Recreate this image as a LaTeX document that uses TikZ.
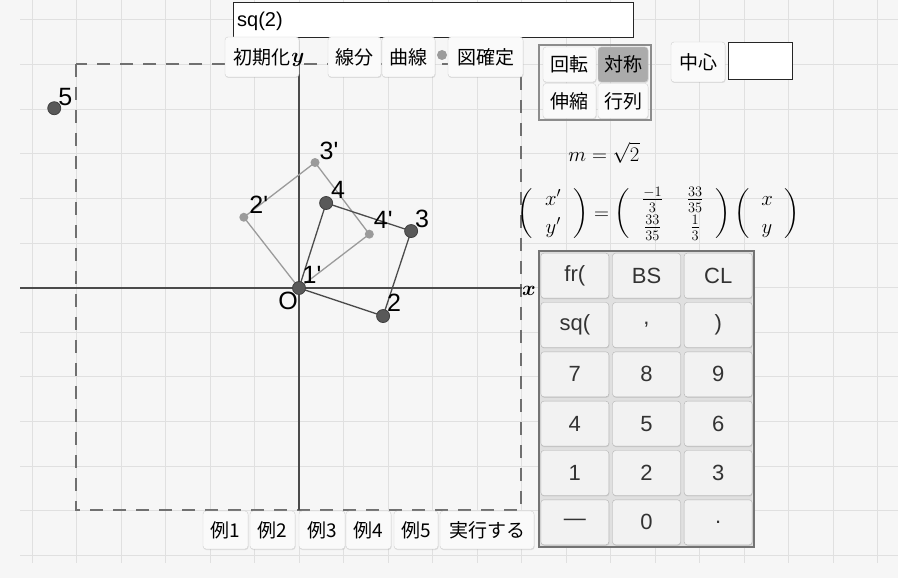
\documentclass[tikz,border=0pt]{standalone}
\usepackage{fontspec}
\setmainfont{Liberation Sans}
\newfontfamily\jpfont{Noto Sans CJK JP}
\usepackage{amsmath}
\usetikzlibrary{shadows}
\definecolor{bgcol}{HTML}{F6F6F6}
\definecolor{gridcol}{HTML}{E0E0E0}
\definecolor{axiscol}{HTML}{4A4A4A}
\definecolor{dashcol}{HTML}{707070}
\definecolor{ptdark}{HTML}{595959}
\definecolor{ptlight}{HTML}{9B9B9B}
\definecolor{btnfill}{HTML}{FAFAFA}
\definecolor{btnline}{HTML}{CFCFCF}
\definecolor{keyfill}{HTML}{F2F2F2}
\definecolor{selcol}{HTML}{ABABAB}

\begin{document}
\begin{tikzpicture}[x=1pt, y=-1pt,
    btn/.style={draw=btnline, fill=btnfill, rounded corners=3pt, inner sep=0pt,
      font=\jpfont\fontsize{19}{19}\selectfont,
      drop shadow={shadow xshift=.5pt, shadow yshift=-1pt, opacity=.2}},
    key/.style={btn, fill=keyfill, draw=black!30, minimum width=68pt, minimum height=45pt,
      font=\fontsize{22}{22}\selectfont, text=black!80},
    lbl/.style={inner sep=0pt, font=\fontsize{25}{25}\selectfont}]
  \fill[bgcol] (0,0) rectangle (898,578);
  \useasboundingbox (0,0) rectangle (898,578);
  % grid
  \foreach \k in {0,...,19}
    \draw[gridcol, line width=1pt] ({32+44.5*\k},0) -- ({32+44.5*\k},563);
  \foreach \k in {0,...,12}
    \draw[gridcol, line width=1pt] (20,{20+44.6*\k}) -- (898,{20+44.6*\k});
  \draw[dashcol, line width=1.8pt, dash pattern=on 13pt off 10pt] (76,64) rectangle (521,510);
  % axes
  \coordinate (o) at (299,288);
  \coordinate (xl) at (20,288);
  \coordinate (xr) at (522,288);
  \coordinate (yt) at (299,64);
  \coordinate (yb) at (299,510);
  \draw[axiscol, line width=1.2pt] (xl) -- (xr);
  \draw[axiscol, line width=1.2pt] (yt) -- (yb);
  \node[font=\huge, inner sep=0pt] (xlab) at (529,291) {$\boldsymbol{x}$};
  % points
  \begin{scope}[shift={(o)}, x=44.5pt, y=44.5pt]
    \coordinate (p1) at (0,0);
    \coordinate (p2) at (1.89,-0.63);
    \coordinate (p3) at (2.52,1.28);
    \coordinate (p4) at (0.61,1.91);
    \coordinate (p5) at (-5.5,4.04);
    \coordinate (q2) at (-1.24,1.59);
    \coordinate (q3) at (0.36,2.82);
    \coordinate (q4) at (1.58,1.21);
  \end{scope}
  \draw[ptlight, line width=1.3pt] (p1) -- (q2) -- (q3) -- (q4) -- cycle;
  \draw[black!70, line width=1.3pt] (p1) -- (p2) -- (p3) -- (p4) -- cycle;
  \fill[ptlight] (q2) circle[radius=4.5pt] (q3) circle[radius=4.5pt] (q4) circle[radius=4.5pt];
  \filldraw[fill=ptdark, draw=black!75, line width=.8pt] (p1) circle[radius=6.5pt] (p2) circle[radius=6.5pt]
    (p3) circle[radius=6.5pt] (p4) circle[radius=6.5pt] (p5) circle[radius=6.5pt];
  \node[lbl, xshift=-11pt, yshift=-13pt] (lo) at (p1) {O};
  \node[lbl, xshift=13pt, yshift=13pt] (l1) at (p1) {1\textquotesingle};
  \node[lbl, xshift=11pt, yshift=13pt] (l2) at (p2) {2};
  \node[lbl, xshift=11pt, yshift=12pt] (l3) at (p3) {3};
  \node[lbl, xshift=12pt, yshift=13pt] (l4) at (p4) {4};
  \node[lbl, xshift=11pt, yshift=11pt] (l5) at (p5) {5};
  \node[lbl, xshift=15pt, yshift=12pt] (m2) at (q2) {2\textquotesingle};
  \node[lbl, xshift=14pt, yshift=12pt] (m3) at (q3) {3\textquotesingle};
  \node[lbl, xshift=14pt, yshift=14pt] (m4) at (q4) {4\textquotesingle};
  % input line and buttons
  \node[draw=black!85, fill=white, line width=1pt, minimum width=400pt, minimum height=35pt, inner sep=0pt] (inp) at (433,20.5) {};
  \node[anchor=west, inner sep=0pt, font=\fontsize{20}{20}\selectfont] (inptxt) at (237,21) {sq(2)};
  \node[btn, minimum width=74pt, minimum height=40pt] (init) at (262,57) {初期化};
  \node[btn, minimum width=53pt, minimum height=40pt] (seg) at (354.5,57) {線分};
  \node[btn, minimum width=53pt, minimum height=40pt] (crv) at (408.5,57) {曲線};
  \coordinate (dotc) at (442,55);
  \fill[ptlight] (dotc) circle[radius=5pt];
  \node[btn, minimum width=75pt, minimum height=40pt] (fix) at (485.5,57) {図確定};
  \node[font=\huge, inner sep=0pt] (ylab) at (298,60) {$\boldsymbol{y}$};
  % mode switches
  \draw[black!45, line width=1.5pt] (539,45) rectangle (651,120);
  \node[btn, minimum width=53pt, minimum height=35pt] (rot) at (569.5,64.5) {回転};
  \node[btn, fill=selcol, minimum width=50pt, minimum height=35pt] (sym) at (623,64.5) {対称};
  \node[btn, minimum width=53pt, minimum height=35pt] (scl) at (569.5,101) {伸縮};
  \node[btn, minimum width=50pt, minimum height=35pt] (mtx) at (623,101) {行列};
  \node[btn, minimum width=54pt, minimum height=40pt] (ctr) at (698,62) {中心};
  \node[draw=black!85, fill=white, line width=1pt, minimum width=64pt, minimum height=37pt, inner sep=0pt] (ctrbox) at (760,61.5) {};
  % formulas
  \node[font=\huge, inner sep=0pt] (mval) at (604,153) {$m=\sqrt{2}$};
  \node[font=\huge, inner sep=0pt] (meq) at (659,214) {$\arraycolsep=12pt
    \left(\begin{array}{c}x'\vphantom{\frac{33}{35}}\\[3pt]y'\vphantom{\frac{33}{35}}\end{array}\right)=
    \left(\begin{array}{cc}\frac{-1}{3}&\frac{33}{35}\\[3pt]
      \frac{33}{35}&\frac{1}{3}\end{array}\right)
    \left(\begin{array}{c}x\vphantom{\frac{33}{35}}\\[3pt]y\vphantom{\frac{33}{35}}\end{array}\right)$};
  % keypad
  \fill[black!12] (539,251) rectangle (754,547);
  \draw[black!55, line width=1.5pt] (539,251) rectangle (754,547);
  \foreach \t [count=\i from 0] in {{fr(},{BS},{CL},{sq(},{,},{)},7,8,9,4,5,6,1,2,3,—,0,.} {
    \pgfmathtruncatemacro\kc{mod(\i,3)}
    \pgfmathtruncatemacro\kr{\i/3}
    \node[key] (k\i) at ({539+71.67*(\kc+.5)},{251+49.33*(\kr+.5)}) {\t};
  }
  % examples
  \node[btn, minimum width=45pt, minimum height=38pt] (ex1) at (225.5,530) {例1};
  \node[btn, minimum width=45pt, minimum height=38pt] (ex2) at (272.5,530) {例2};
  \node[btn, minimum width=46pt, minimum height=38pt] (ex3) at (322,530) {例3};
  \node[btn, minimum width=45pt, minimum height=38pt] (ex4) at (368.5,530) {例4};
  \node[btn, minimum width=44pt, minimum height=38pt] (ex5) at (416,530) {例5};
  \node[btn, minimum width=94pt, minimum height=38pt] (run) at (487,530) {実行する};
\end{tikzpicture}
\end{document}
